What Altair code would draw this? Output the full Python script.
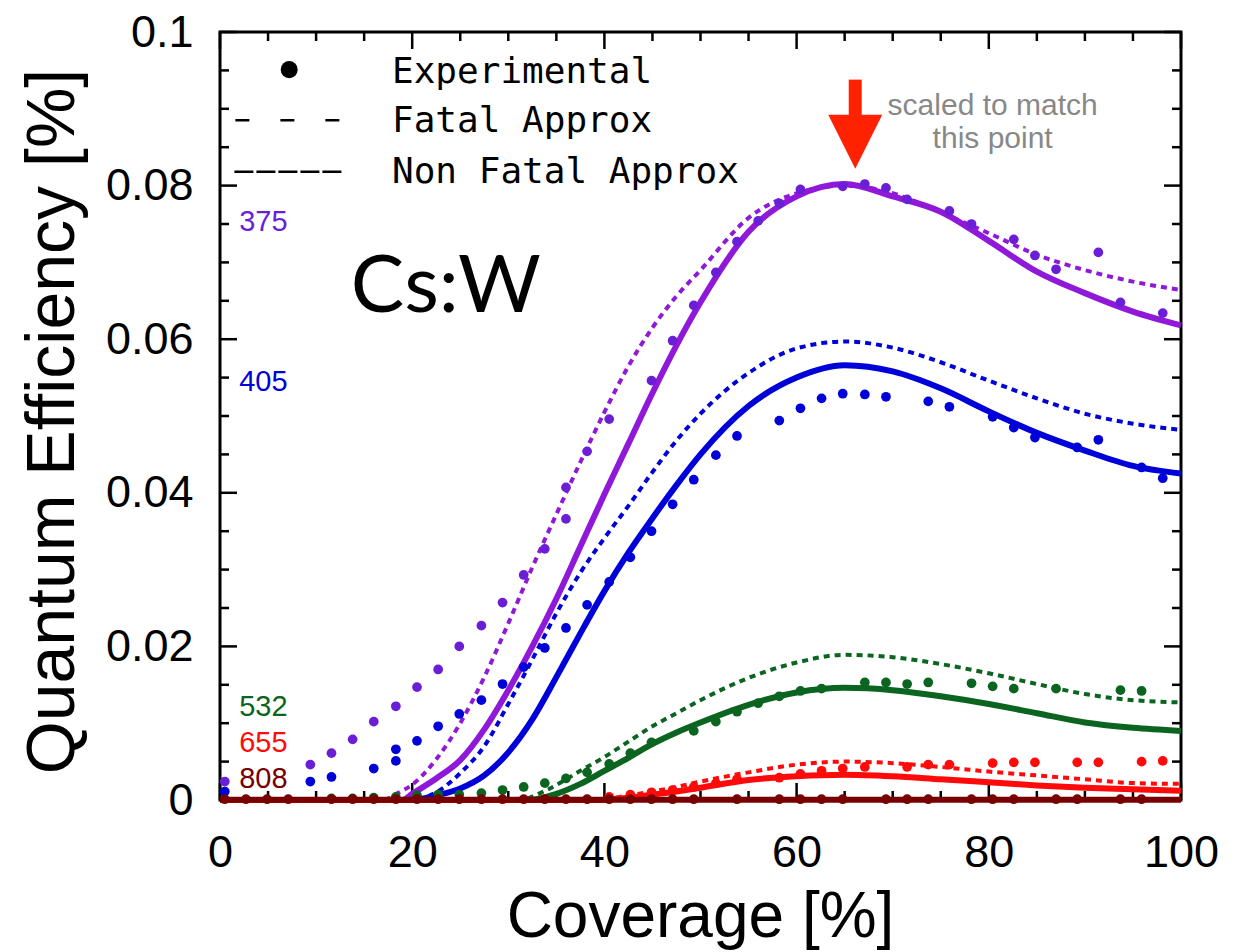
import altair as alt
import pandas as pd

# ---------------- data ----------------
# Experimental points: coverage [%] and quantum efficiency [%]
p375_cov = [0.5, 9.4, 11.6, 13.8, 16.0, 18.3, 20.5, 22.7, 24.9, 27.2, 29.4, 31.6, 33.8, 36.0, 36.0,
            38.2, 40.5, 44.9, 47.1, 49.3, 51.6, 53.8, 56.0, 58.2, 60.4, 64.8, 67.1, 69.3, 71.5,
            75.9, 78.2, 82.6, 84.8, 87.0, 91.4, 93.7, 98.1]
p375_qe = [0.0024, 0.0046, 0.0061, 0.0079, 0.0102, 0.0122, 0.0147, 0.0170, 0.0200, 0.0227, 0.0257,
           0.0293, 0.0327, 0.0366, 0.0407, 0.0454, 0.0496, 0.0546, 0.0598, 0.0644, 0.0687, 0.0727,
           0.0754, 0.0777, 0.0795, 0.0799, 0.0802, 0.0797, 0.0782, 0.0767, 0.0750, 0.0730, 0.0709,
           0.0691, 0.0713, 0.0648, 0.0634]

p405_cov = [0.5, 9.4, 11.6, 16.0, 18.3, 18.3, 20.5, 22.7, 24.9, 27.2, 29.4, 31.6, 33.8, 36.0, 38.2,
            40.5, 42.7, 44.9, 47.1, 49.3, 51.6, 53.8, 58.2, 60.4, 62.6, 64.8, 67.1, 69.3, 73.7,
            75.9, 80.4, 82.6, 84.8, 89.2, 91.4, 95.9, 98.1]
p405_qe = [0.0011, 0.0024, 0.0030, 0.0041, 0.0051, 0.0066, 0.0077, 0.0096, 0.0112, 0.0130, 0.0151,
           0.0173, 0.0198, 0.0224, 0.0254, 0.0284, 0.0316, 0.0350, 0.0385, 0.0417, 0.0449, 0.0474,
           0.0494, 0.0510, 0.0523, 0.0529, 0.0528, 0.0525, 0.0519, 0.0512, 0.0499, 0.0485, 0.0472,
           0.0459, 0.0469, 0.0433, 0.0419]

p532_cov = [11.6, 13.8, 16.0, 18.3, 20.5, 22.7, 24.9, 27.2, 29.4, 31.6, 33.8, 36.0, 38.2, 40.5, 42.7,
            44.9, 49.3, 51.6, 53.8, 56.0, 58.2, 60.4, 62.6, 67.1, 69.3, 71.5, 73.7, 78.2, 80.4,
            82.6, 87.0, 93.7, 95.9]
p532_qe = [0.0002, 0.0002, 0.0003, 0.0004, 0.0006, 0.0007, 0.0007, 0.0009, 0.0013, 0.0017, 0.0022,
           0.0028, 0.0036, 0.0047, 0.0061, 0.0075, 0.0090, 0.0102, 0.0115, 0.0126, 0.0135, 0.0142,
           0.0145, 0.0153, 0.0153, 0.0151, 0.0153, 0.0152, 0.0148, 0.0145, 0.0145, 0.0143, 0.0142]

p655_cov = [40.5, 42.7, 44.9, 47.1, 49.3, 51.6, 53.8, 58.2, 60.4, 62.6, 64.8, 67.1, 71.5, 73.7, 75.9,
            80.4, 82.6, 84.8, 89.2, 91.4, 95.9, 98.1]
p655_qe = [0.0004, 0.0007, 0.0010, 0.0013, 0.0017, 0.0022, 0.0027, 0.0029, 0.0034, 0.0038, 0.0041,
           0.0043, 0.0043, 0.0046, 0.0046, 0.0048, 0.0049, 0.0049, 0.0049, 0.0049, 0.0050, 0.0051]

p808_cov = [0.5, 2.7, 4.9, 7.1, 11.6, 13.8, 16.0, 18.3, 20.5, 22.7, 24.9, 27.2, 29.4, 31.6, 33.8,
            36.0, 38.2, 40.5, 42.7, 44.9, 47.1, 49.3, 53.8, 58.2, 60.4, 62.6, 64.8, 69.3, 71.5,
            73.7, 78.2, 80.4, 82.6, 87.0, 89.2, 93.7, 95.9]
p808_qe = [0.0001] * len(p808_cov)

# Model curves: non fatal approx (solid) and fatal approx (dashed)
nf375_cov = [0, 19, 20, 22.5, 25, 27.5, 30, 32.5, 35, 37.5, 40, 42.5, 45, 47.5, 50, 55, 60, 65, 70, 75, 80, 85, 90, 95, 100]
nf375_qe = [0, 0, 0.0008, 0.0028, 0.0052, 0.0092, 0.0143, 0.0200, 0.0262, 0.0330, 0.0398, 0.0464,
            0.0530, 0.0592, 0.0648, 0.0740, 0.0786, 0.0802, 0.0786, 0.0766, 0.0728, 0.0688, 0.0660,
            0.0636, 0.0618]
f375_cov = [0, 17, 18.5, 20, 22.5, 25, 27.5, 30, 32.5, 35, 37.5, 40, 42.5, 45, 47.5, 50, 55, 60, 65, 70, 75, 80, 85, 90, 95, 100]
f375_qe = [0, 0, 0.0009, 0.0020, 0.0053, 0.0100, 0.0160, 0.0230, 0.0303, 0.0372, 0.0440, 0.0505,
           0.0565, 0.0615, 0.0656, 0.0690, 0.0758, 0.0790, 0.0800, 0.0790, 0.0765, 0.0738, 0.0710,
           0.0690, 0.0675, 0.0664]

nf405_cov = [0, 20, 22.5, 25, 27.5, 30, 32.5, 35, 37.5, 40, 42.5, 45, 47.5, 50, 55, 60, 65, 70, 75, 80, 85, 90, 95, 100]
nf405_qe = [0, 0, 0.0006, 0.0015, 0.0032, 0.0062, 0.0105, 0.0160, 0.0217, 0.0272, 0.0322, 0.0367,
            0.0410, 0.0450, 0.0513, 0.0550, 0.0566, 0.0558, 0.0536, 0.0506, 0.0478, 0.0455, 0.0435, 0.0425]
f405_cov = [0, 20, 22.5, 25, 27.5, 30, 32.5, 35, 37.5, 40, 42.5, 45, 47.5, 50, 55, 60, 65, 70, 75, 80, 85, 90, 95, 100]
f405_qe = [0, 0, 0.0010, 0.0035, 0.0070, 0.0125, 0.0183, 0.0243, 0.0296, 0.0341, 0.0383, 0.0427,
           0.0468, 0.0503, 0.0556, 0.0588, 0.0597, 0.0589, 0.0570, 0.0546, 0.0523, 0.0503, 0.0490, 0.0482]

nf532_cov = [0, 32, 35, 37.5, 40, 42.5, 45, 47.5, 50, 55, 60, 65, 70, 75, 80, 85, 90, 95, 100]
nf532_qe = [0, 0, 0.0008, 0.0021, 0.0038, 0.0055, 0.0073, 0.0088, 0.0101, 0.0124, 0.0140, 0.0146,
            0.0143, 0.0135, 0.0125, 0.0113, 0.0101, 0.0094, 0.0090]
f532_cov = [0, 31, 34, 37.5, 40, 42.5, 45, 47.5, 50, 55, 60, 65, 70, 75, 80, 85, 90, 95, 100]
f532_qe = [0, 0, 0.0013, 0.0038, 0.0056, 0.0076, 0.0096, 0.0113, 0.0130, 0.0159, 0.0179, 0.0189,
           0.0186, 0.0177, 0.0165, 0.0151, 0.0138, 0.0130, 0.0127]

nf655_cov = [0, 39, 42.5, 45, 47.5, 50, 55, 60, 65, 70, 75, 80, 85, 90, 95, 100]
nf655_qe = [0, 0, 0.0003, 0.0007, 0.0011, 0.0016, 0.0026, 0.0031, 0.0033, 0.0031, 0.0027, 0.0023,
            0.0019, 0.0016, 0.0014, 0.0012]
f655_cov = [0, 39, 42.5, 45, 47.5, 50, 55, 60, 65, 70, 75, 80, 85, 90, 95, 100]
f655_qe = [0, 0, 0.0006, 0.0011, 0.0017, 0.0024, 0.0036, 0.0046, 0.0050, 0.0048, 0.0043, 0.0037,
           0.0032, 0.0027, 0.0022, 0.0021]

nf808_cov = [0, 100]
nf808_qe = [0.00003, 0.00003]
f808_cov = [0, 100]
f808_qe = [0.00003, 0.00003]

wavelengths = ["375", "405", "532", "655", "808"]
dot_colors = ["#6a1fd6", "#0000d8", "#0b6420", "#ff0a0a", "#780000"]
line_colors = ["#9018d8", "#0000d8", "#0b6420", "#ff0a0a", "#780000"]

x_ticks = [0, 20, 40, 60, 80, 100]
x_minor = [5, 10, 15, 25, 30, 35, 45, 50, 55, 65, 70, 75, 85, 90, 95]
y_ticks = [0, 0.02, 0.04, 0.06, 0.08, 0.1]
y_minor = [0.005, 0.01, 0.015, 0.025, 0.03, 0.035, 0.045, 0.05, 0.055, 0.065, 0.07, 0.075, 0.085, 0.09, 0.095]

# annotation texts
wl_label_y = [0.0741, 0.0532, 0.0110, 0.0063, 0.0015]
legend_texts = ["Experimental", "Fatal Approx", "Non Fatal Approx"]
legend_text_y = [0.0934, 0.0870, 0.0803]
note_lines = ["scaled to match", "this point"]
note_y = [0.0892, 0.0849]

# ---------------- chart ----------------
W, H = 961, 768
xs = alt.Scale(domain=[0, 100], nice=False, zero=False)
ys = alt.Scale(domain=[0, 0.1], nice=False, zero=False)

X_AXIS = alt.Axis(
    values=x_ticks, title="Coverage [%]", grid=False, domain=False, ticks=False, tickSize=0,
    labelFont="Liberation Sans", labelFontSize=45, labelColor="black", labelPadding=30,
    labelBaseline="top", labelFlush=False,
    titleFont="Liberation Sans", titleFontSize=64, titleFontWeight="normal", titleColor="black",
    titleX=480, titleY=136, titleBaseline="alphabetic", titleAnchor="middle")
Y_AXIS = alt.Axis(
    values=y_ticks, format=".2~f", title="Quantum Efficiency [%]", grid=False, domain=False,
    ticks=False, tickSize=0, labelFont="Liberation Sans", labelFontSize=45, labelColor="black",
    labelPadding=27, labelFlush=False,
    titleFont="Liberation Sans", titleFontSize=68, titleFontWeight="normal", titleColor="black",
    titleX=-147, titleY=389, titleAngle=270, titleAlign="center", titleBaseline="alphabetic")


def X(f):
    return alt.X(f, type="quantitative", scale=xs, axis=X_AXIS, title="Coverage [%]")


def Y(f):
    return alt.Y(f, type="quantitative", scale=ys, axis=Y_AXIS, title="Quantum Efficiency [%]")


layers = []

# tick marks (inward) on all four sides
ymaj = pd.DataFrame({"v": y_ticks})
ymin = pd.DataFrame({"v": y_minor})
xmaj = pd.DataFrame({"v": x_ticks})
xmin = pd.DataFrame({"v": x_minor})
for df, ln in [(ymaj, 17), (ymin, 9)]:
    layers.append(alt.Chart(df).mark_rule(color="black", strokeWidth=2.5).encode(
        y=Y("v"), x=alt.value(0), x2=alt.value(ln)))
    layers.append(alt.Chart(df).mark_rule(color="black", strokeWidth=2.5).encode(
        y=Y("v"), x=alt.value(W), x2=alt.value(W - ln)))
for df, ln in [(xmaj, 17), (xmin, 9)]:
    layers.append(alt.Chart(df).mark_rule(color="black", strokeWidth=2.5).encode(
        x=X("v"), y=alt.value(H), y2=alt.value(H - ln)))
    layers.append(alt.Chart(df).mark_rule(color="black", strokeWidth=2.5).encode(
        x=X("v"), y=alt.value(0), y2=alt.value(ln)))

points = {"375": (p375_cov, p375_qe), "405": (p405_cov, p405_qe), "532": (p532_cov, p532_qe),
          "655": (p655_cov, p655_qe), "808": (p808_cov, p808_qe)}
nonfatal = {"375": (nf375_cov, nf375_qe), "405": (nf405_cov, nf405_qe), "532": (nf532_cov, nf532_qe),
            "655": (nf655_cov, nf655_qe), "808": (nf808_cov, nf808_qe)}
fatal = {"375": (f375_cov, f375_qe), "405": (f405_cov, f405_qe), "532": (f532_cov, f532_qe),
         "655": (f655_cov, f655_qe), "808": (f808_cov, f808_qe)}

# series
for wl, dc, lc in zip(wavelengths, dot_colors, line_colors):
    fc, fq = fatal[wl]
    nc, nq = nonfatal[wl]
    pc, pq = points[wl]
    layers.append(alt.Chart(pd.DataFrame({"cov": fc, "qe": fq})).mark_line(
        color=lc, strokeWidth=4, strokeDash=[6, 5], interpolate="monotone").encode(
        x=X("cov"), y=Y("qe")))
    layers.append(alt.Chart(pd.DataFrame({"cov": nc, "qe": nq})).mark_line(
        color=lc, strokeWidth=6, interpolate="monotone").encode(
        x=X("cov"), y=Y("qe")))
    layers.append(alt.Chart(pd.DataFrame({"cov": pc, "qe": pq})).mark_circle(
        color=dc, size=95, opacity=1).encode(
        x=X("cov"), y=Y("qe")))

# wavelength labels
wl_df = pd.DataFrame({"t": wavelengths, "cov": [2.0] * 5, "qe": wl_label_y, "c": dot_colors})
layers.append(alt.Chart(wl_df).mark_text(
    align="left", baseline="alphabetic", font="Liberation Sans", fontSize=29).encode(
    x=X("cov"), y=Y("qe"), text="t:N", color=alt.Color("c:N", scale=None)))

# Cs:W label
layers.append(alt.Chart(pd.DataFrame({"t": ["Cs:W"], "cov": [13.6], "qe": [0.0635]})).mark_text(
    align="left", baseline="alphabetic", font="Lato", fontSize=80, color="black").encode(
    x=X("cov"), y=Y("qe"), text="t:N"))

# legend
leg_df = pd.DataFrame({"t": legend_texts, "cov": [17.9] * 3, "qe": legend_text_y})
layers.append(alt.Chart(leg_df).mark_text(
    align="left", baseline="alphabetic", font="DejaVu Sans Mono", fontSize=36, color="black").encode(
    x=X("cov"), y=Y("qe"), text="t:N"))
layers.append(alt.Chart(pd.DataFrame({"cov": [7.2], "qe": [0.0951]})).mark_circle(
    color="black", size=290, opacity=1).encode(x=X("cov"), y=Y("qe")))
layers.append(alt.Chart(pd.DataFrame({"cov": [1.6], "cov2": [12.9], "qe": [0.0885]})).mark_rule(
    color="black", strokeWidth=2.5, strokeDash=[14, 31]).encode(
    x=X("cov"), x2="cov2:Q", y=Y("qe")))
layers.append(alt.Chart(pd.DataFrame({"cov": [1.5], "cov2": [12.95], "qe": [0.0818]})).mark_rule(
    color="black", strokeWidth=2.5, strokeDash=[19, 3]).encode(
    x=X("cov"), x2="cov2:Q", y=Y("qe")))

# red arrow + note
arrow_col = "#ff2200"
layers.append(alt.Chart(pd.DataFrame({"cov": [66.1], "qe": [0.0938], "qe2": [0.0880]})).mark_rule(
    color=arrow_col, strokeWidth=13).encode(x=X("cov"), y=Y("qe"), y2="qe2:Q"))
layers.append(alt.Chart(pd.DataFrame({"cov": [66.1], "qe": [0.0857]})).mark_point(
    shape="M-1,-1L1,-1L0,1Z", size=2916, filled=True, color=arrow_col, opacity=1, strokeWidth=0).encode(
    x=X("cov"), y=Y("qe")))
note_df = pd.DataFrame({"t": note_lines, "cov": [80.4, 80.4], "qe": note_y})
layers.append(alt.Chart(note_df).mark_text(
    align="center", baseline="alphabetic", font="Liberation Sans", fontSize=30, color="#888888").encode(
    x=X("cov"), y=Y("qe"), text="t:N"))

chart = alt.layer(*layers).properties(
    width=W, height=H,
    autosize=alt.AutoSizeParams(type="none"),
    padding={"left": 212, "top": 24, "right": 40, "bottom": 151},
).configure_view(stroke="black", strokeWidth=3)

chart.save("out.html", embed_options={"renderer": "svg", "actions": False})
